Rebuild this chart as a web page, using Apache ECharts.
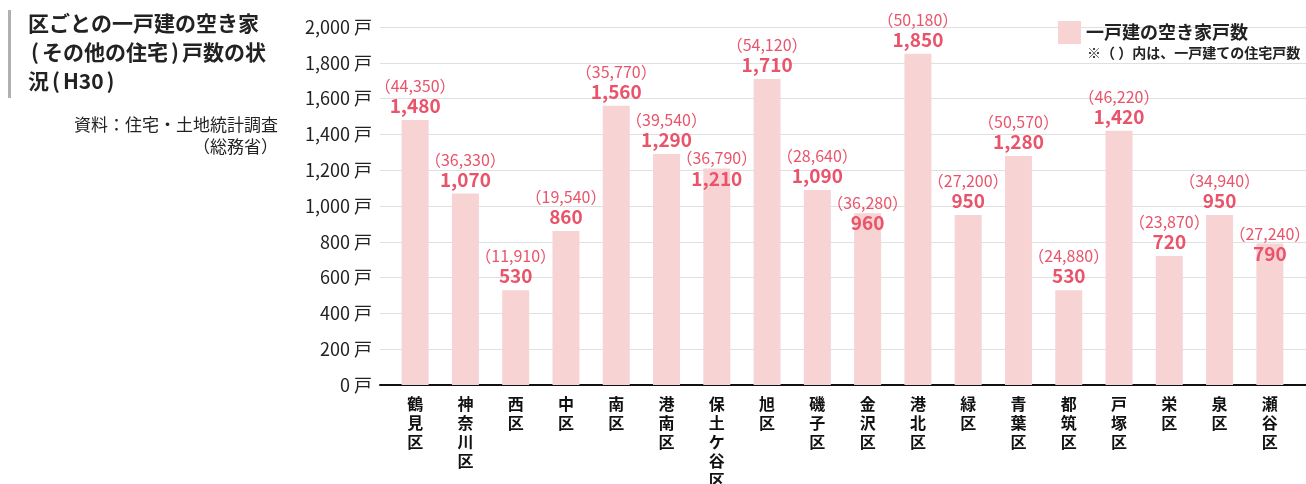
<!DOCTYPE html>
<html>
<head>
<meta charset="utf-8">
<script src="https://cdn.jsdelivr.net/npm/echarts@6/dist/echarts.min.js"></script>
<style>
  html, body { margin: 0; padding: 0; background: #fff; }
  #chart { width: 1306px; height: 484px; }
</style>
</head>
<body>
<div id="chart"></div>
<script>
// 区ごとの一戸建の空き家（その他の住宅）戸数（H30）
const districts = ['鶴見区', '神奈川区', '西区', '中区', '南区', '港南区', '保土ケ谷区', '旭区', '磯子区',
  '金沢区', '港北区', '緑区', '青葉区', '都筑区', '戸塚区', '栄区', '泉区', '瀬谷区']
const vacantHouses = [1480, 1070, 530, 860, 1560, 1290, 1210, 1710, 1090,
  960, 1850, 950, 1280, 530, 1420, 720, 950, 790]
const totalHouses = [44350, 36330, 11910, 19540, 35770, 39540, 36790, 54120, 28640,
  36280, 50180, 27200, 50570, 24880, 46220, 23870, 34940, 27240]
const yTicks = { min: 0, max: 2000, interval: 200 }

// labels pushed down onto the bar so they don't collide with the neighbour
const loweredLabels = ['保土ケ谷区', '金沢区', '瀬谷区']

const FONT = 'Noto Sans CJK JP'
const PINK = '#f8d3d4'
const RED = '#e9546b'
const fmt = n => n.toLocaleString('en-US')

const chart = echarts.init(document.getElementById('chart'))

const seriesData = vacantHouses.map((v, i) => {
  const item = { value: v }
  if (loweredLabels.includes(districts[i])) {
    item.label = { offset: [0, 24] }
  }
  return item
})

// narrow parens in the title, padded a little like the original
const titleRich = {
  t: { font: 'bold 21px "' + FONT + '"', fill: '#222', lineHeight: 29 },
  p: { font: 'bold 21px "' + FONT + '"', fill: '#222', lineHeight: 29, padding: [0, 3] }
}

chart.setOption({
  animation: false,
  textStyle: { fontFamily: FONT },
  grid: [
    { left: 390, right: 11, top: 27, bottom: 99, outerBoundsMode: 'none' },
    { left: 380, right: 0, top: 27, bottom: 99, outerBoundsMode: 'none' }
  ],
  legend: {
    data: ['一戸建の空き家戸数'],
    left: 1053,
    top: 16,
    icon: 'rect',
    itemWidth: 23,
    itemHeight: 23,
    itemGap: 6,
    textStyle: { fontFamily: FONT, fontSize: 18, fontWeight: 'bold', color: '#222' }
  },
  xAxis: [
    {
      type: 'category',
      gridIndex: 0,
      data: districts,
      axisLine: { show: false },
      axisTick: { show: false },
      axisLabel: {
        interval: 0,
        margin: 9,
        fontFamily: FONT,
        fontSize: 16,
        fontWeight: 'bold',
        lineHeight: 19,
        color: '#111',
        formatter: v => v.split('').join('\n')
      }
    },
    {
      type: 'value',
      gridIndex: 1,
      min: 0,
      max: 1,
      axisLine: { show: true, lineStyle: { color: '#111', width: 2 } },
      axisTick: { show: false },
      axisLabel: { show: false },
      splitLine: { show: false }
    }
  ],
  yAxis: [
    {
      type: 'value',
      gridIndex: 0,
      min: yTicks.min,
      max: yTicks.max,
      interval: yTicks.interval,
      show: false,
      splitLine: { show: false }
    },
    {
      type: 'value',
      gridIndex: 1,
      min: yTicks.min,
      max: yTicks.max,
      interval: yTicks.interval,
      axisLine: { show: false },
      axisTick: { show: false },
      axisLabel: {
        margin: 8,
        fontFamily: FONT,
        fontSize: 18,
        color: '#222',
        formatter: v => fmt(v) + ' 戸'
      },
      splitLine: { lineStyle: { color: '#e0e0e0', width: 1 } }
    }
  ],
  graphic: [
    { type: 'rect', left: 8, top: 10, shape: { width: 3, height: 88 }, style: { fill: '#b0b0b0' } },
    {
      type: 'text', x: 28, y: 9,
      style: {
        text: '{t|区ごとの一戸建の空き家}\n{p|(}{t|その他の住宅}{p|)}{t|戸数の状}\n{t|況}{p|(}{t|H30}{p|)}',
        rich: titleRich,
        font: 'bold 21px "' + FONT + '"',
        lineHeight: 29,
        fill: '#222'
      }
    },
    {
      type: 'text', x: 278, y: 116,
      style: { text: '資料：住宅・土地統計調査', font: '17px "' + FONT + '"', align: 'right', fill: '#222' }
    },
    {
      type: 'text', x: 278, y: 138,
      style: { text: '（総務省）', font: '17px "' + FONT + '"', align: 'right', fill: '#222' }
    },
    {
      type: 'text', x: 1087, y: 46,
      style: {
        text: '※（ ）内は、一戸建ての住宅戸数',
        font: 'bold 14px "' + FONT + '"',
        fill: '#222'
      }
    }
  ],
  series: [
    {
      name: '一戸建の空き家戸数',
      type: 'bar',
      xAxisIndex: 0,
      yAxisIndex: 0,
      barWidth: 27,
      itemStyle: { color: PINK },
      data: seriesData,
      label: {
        show: true,
        position: 'top',
        distance: 4,
        formatter: p => '{a|（' + fmt(totalHouses[p.dataIndex]) + '）}\n{b|' + fmt(p.value) + '}',
        rich: {
          a: { fontFamily: FONT, fontSize: 16, color: RED, lineHeight: 20 },
          b: { fontFamily: FONT, fontSize: 19, fontWeight: 'bold', color: RED, lineHeight: 20 }
        }
      }
    }
  ]
})
</script>
</body>
</html>
